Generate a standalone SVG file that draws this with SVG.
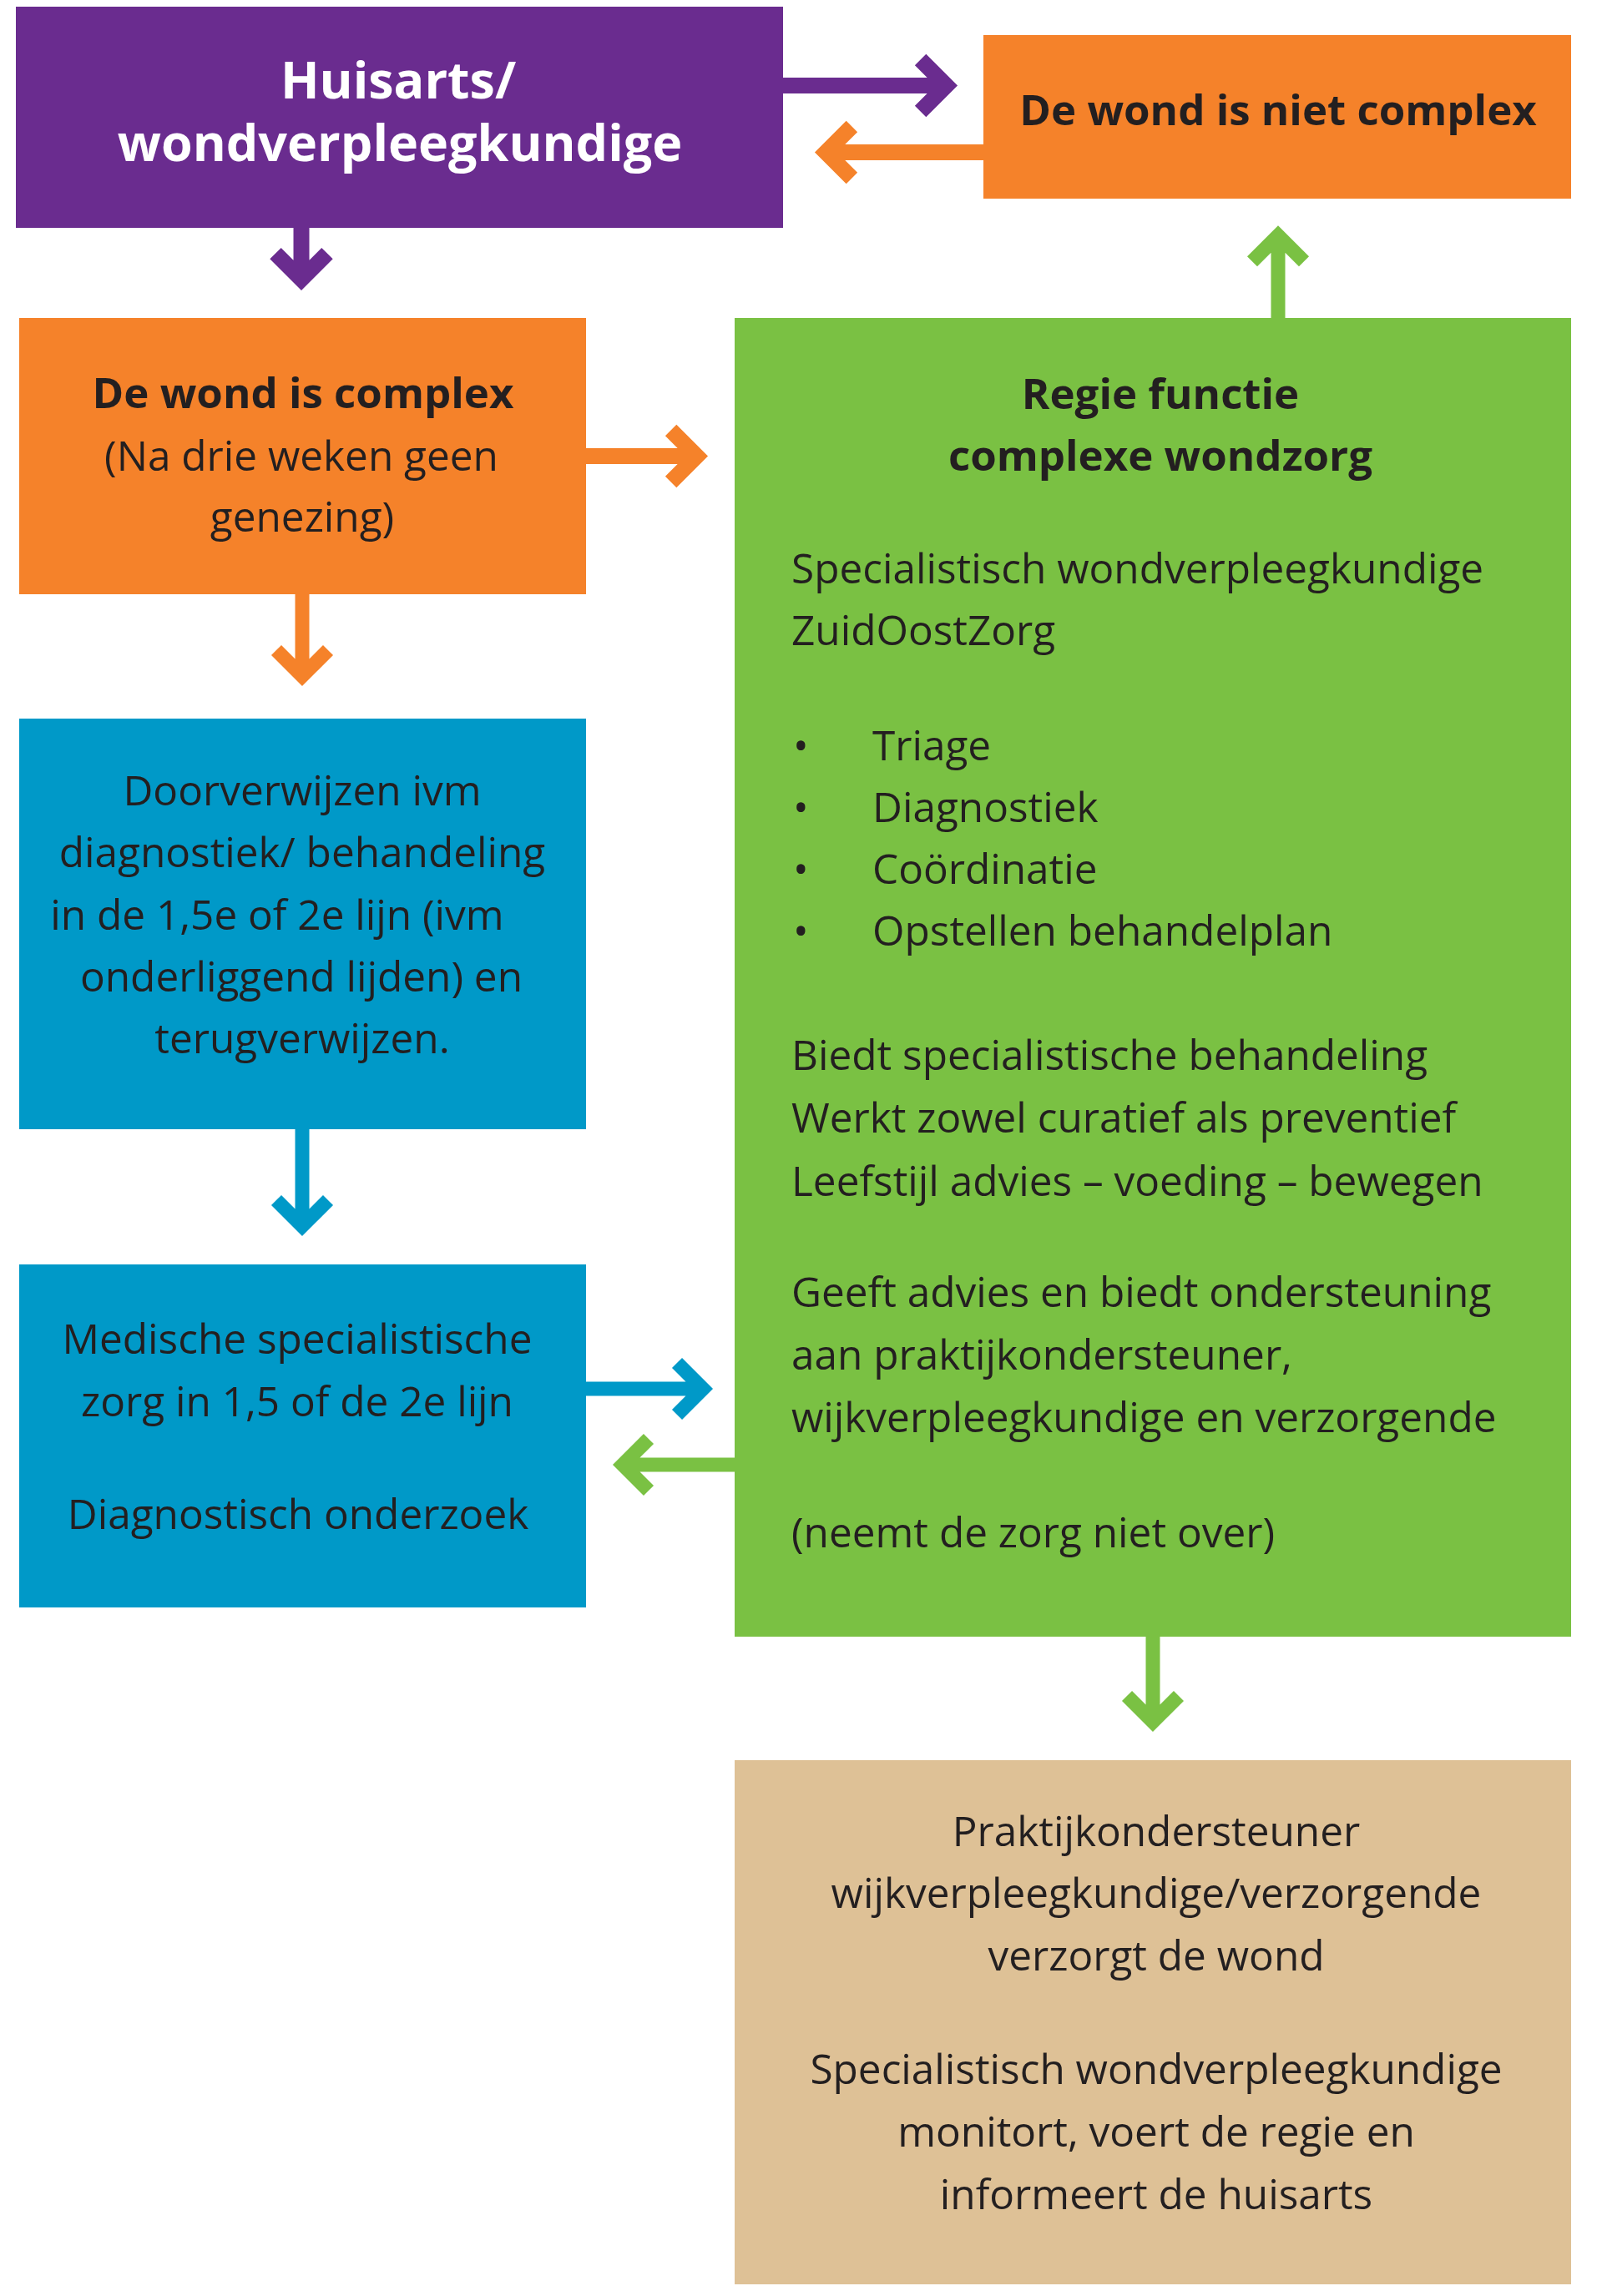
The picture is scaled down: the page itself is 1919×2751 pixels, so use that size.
<svg xmlns="http://www.w3.org/2000/svg" width="1919" height="2751" viewBox="0 0 1919 2751">
<style>
.t{font-family:"Open Sans","Noto Sans","Liberation Sans",sans-serif;font-size:49.5px;fill:#231F20}
.b{font-weight:bold;font-size:51px}
.c{text-anchor:middle}
.w{fill:#FFFFFF;font-size:61px}
.arr{fill:none;stroke-linejoin:miter;stroke-miterlimit:10;stroke-linecap:butt}
.ap{stroke:#6A2C8F;stroke-width:19}
.ao{stroke:#F5822A}
.ab{stroke:#0099C8;stroke-width:17}
.ag{stroke:#7AC143;stroke-width:17}
</style>
<rect width="1919" height="2751" fill="#FFFFFF"/>
<g id="connectors" class="arr">
<path class="ap" d="M938 102.5H1133.6M1102.6 71.5L1133.6 102.5L1102.6 133.5"/>
<path class="ao" stroke-width="19" d="M1178 182.5H989.4M1020.4 151.5L989.4 182.5L1020.4 213.5"/>
<path class="ap" d="M361 272V334.6M330 303.6L361 334.6L392 303.6"/>
<path class="ao" stroke-width="19" d="M702 546.5H834.6M803.6 515.5L834.6 546.5L803.6 577.5"/>
<path class="ao" stroke-width="17" d="M362 712V810M331 779L362 810L393 779"/>
<path class="ab" d="M362 1353V1469M331 1438L362 1469L393 1438"/>
<path class="ab" d="M702 1664H842M811 1633L842 1664L811 1695"/>
<path class="ag" d="M880 1755H746M777 1724L746 1755L777 1786"/>
<path class="ag" d="M1381 1961V2063M1350 2032L1381 2063L1412 2032"/>
<path class="ag" stroke-width="16" d="M1531 381V282.3M1500 313.3L1531 282.3L1562 313.3"/>
</g>
<g id="huisarts">
<rect x="19" y="8" width="919" height="265" fill="#6A2C8F"/>
<text class="t b c w" x="477" y="118">Huisarts/</text>
<text class="t b c w" x="479" y="193">wondverpleegkundige</text>
</g>
<g id="niet-complex">
<rect x="1178" y="42" width="704" height="196" fill="#F5822A"/>
<text class="t b c" x="1531" y="150">De wond is niet complex</text>
</g>
<g id="complex">
<rect x="23" y="381" width="679" height="331" fill="#F5822A"/>
<text class="t b c" x="363" y="489">De wond is complex</text>
<text class="t c" x="361" y="564">(Na drie weken geen</text>
<text class="t c" x="362" y="637">genezing)</text>
</g>
<g id="regie">
<rect x="880" y="381" width="1002" height="1580" fill="#7AC143"/>
<text class="t b c" x="1390" y="490">Regie functie</text>
<text class="t b c" x="1390" y="564">complexe wondzorg</text>
<text class="t" x="948" y="699">Specialistisch wondverpleegkundige</text>
<text class="t" x="948" y="773">ZuidOostZorg</text>
<text class="t" x="950" y="911" font-size="40">•</text>
<text class="t" x="1045" y="911">Triage</text>
<text class="t" x="950" y="985" font-size="40">•</text>
<text class="t" x="1045" y="985">Diagnostiek</text>
<text class="t" x="950" y="1059" font-size="40">•</text>
<text class="t" x="1045" y="1059">Coördinatie</text>
<text class="t" x="950" y="1133" font-size="40">•</text>
<text class="t" x="1045" y="1133">Opstellen behandelplan</text>
<text class="t" x="948" y="1282">Biedt specialistische behandeling</text>
<text class="t" x="948" y="1357">Werkt zowel curatief als preventief</text>
<text class="t" x="948" y="1433">Leefstijl advies – voeding – bewegen</text>
<text class="t" x="948" y="1566">Geeft advies en biedt ondersteuning</text>
<text class="t" x="948" y="1641">aan praktijkondersteuner,</text>
<text class="t" x="948" y="1716">wijkverpleegkundige en verzorgende</text>
<text class="t" x="948" y="1854">(neemt de zorg niet over)</text>
</g>
<g id="doorverwijzen">
<rect x="23" y="861" width="679" height="492" fill="#0099C8"/>
<text class="t c" x="362" y="965">Doorverwijzen ivm</text>
<text class="t c" x="362" y="1039">diagnostiek/ behandeling</text>
<text class="t c" x="332" y="1114">in de 1,5e of 2e lijn (ivm</text>
<text class="t c" x="361" y="1188">onderliggend lijden) en</text>
<text class="t c" x="362" y="1262">terugverwijzen.</text>
</g>
<g id="medische">
<rect x="23" y="1515" width="679" height="411" fill="#0099C8"/>
<text class="t c" x="356" y="1622">Medische specialistische</text>
<text class="t c" x="356" y="1697">zorg in 1,5 of de 2e lijn</text>
<text class="t c" x="357" y="1832">Diagnostisch onderzoek</text>
</g>
<g id="praktijk">
<rect x="880" y="2109" width="1002" height="628" fill="#DEC196"/>
<text class="t c" x="1385" y="2212">Praktijkondersteuner</text>
<text class="t c" x="1385" y="2286">wijkverpleegkundige/verzorgende</text>
<text class="t c" x="1385" y="2361">verzorgt de wond</text>
<text class="t c" x="1385" y="2497">Specialistisch wondverpleegkundige</text>
<text class="t c" x="1385" y="2572">monitort, voert de regie en</text>
<text class="t c" x="1385" y="2647">informeert de huisarts</text>
</g>
</svg>
